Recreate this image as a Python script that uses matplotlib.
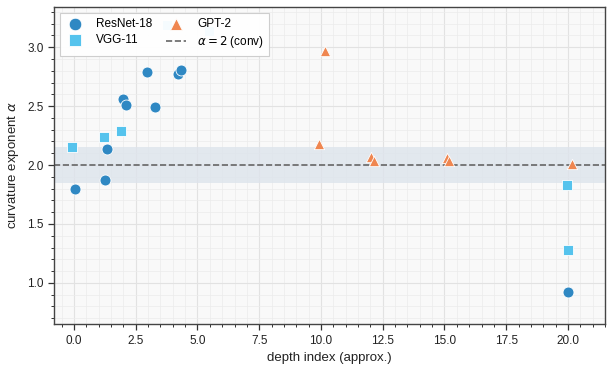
import matplotlib
matplotlib.use("Agg")
import matplotlib.pyplot as plt
from matplotlib.ticker import MultipleLocator

plt.rcParams['font.family'] = ['Liberation Sans', 'DejaVu Sans']
plt.rcParams['mathtext.fontset'] = 'dejavusans'

# data
resnet_x = [0.05, 1.27, 1.33, 1.97, 2.12, 2.97, 3.27, 4.22, 4.34, 20.0]
resnet_y = [1.80, 1.87, 2.14, 2.56, 2.51, 2.79, 2.49, 2.77, 2.81, 0.92]

vgg_x = [-0.08, 1.21, 1.92, 3.75, 5.45, 19.96, 20.0]
vgg_y = [2.15, 2.24, 2.29, 3.19, 3.14, 1.83, 1.28]

gpt_x = [9.92, 10.15, 12.01, 12.13, 15.09, 15.19, 20.18]
gpt_y = [2.18, 2.97, 2.07, 2.03, 2.06, 2.03, 2.01]

conv_alpha = 2.0
band = (1.85, 2.15)

fig, ax = plt.subplots(figsize=(6.13, 3.73), dpi=100)
fig.subplots_adjust(left=0.088, right=0.987, top=0.981, bottom=0.131)

ax.set_facecolor('#f9f9f9')
ax.grid(True, which='major', color='#e2e2e2', lw=0.8, zorder=0)
ax.grid(True, which='minor', color='#ececec', lw=0.5, zorder=0)
ax.set_axisbelow(True)

ax.axhspan(band[0], band[1], color='#dde4ec', alpha=0.8, lw=0, zorder=1)
ax.axhline(conv_alpha, color='#666666', ls='--', lw=1.2, zorder=2,
           label=r'$\alpha = 2$ (conv)')

ax.scatter(resnet_x, resnet_y, s=62, marker='o', color='#2f88c3',
           edgecolor='white', linewidth=0.6, zorder=3, label='ResNet-18')
ax.scatter(vgg_x, vgg_y, s=62, marker='s', color='#55c3ed',
           edgecolor='white', linewidth=0.6, zorder=3, label='VGG-11')
ax.scatter(gpt_x, gpt_y, s=55, marker='^', color='#ef8650',
           edgecolor='white', linewidth=0.6, zorder=3, label='GPT-2')

ax.set_xlim(-0.81, 21.5)
ax.set_ylim(0.65, 3.34)
ax.xaxis.set_major_locator(MultipleLocator(2.5))
ax.xaxis.set_minor_locator(MultipleLocator(0.5))
ax.yaxis.set_major_locator(MultipleLocator(0.5))
ax.yaxis.set_minor_locator(MultipleLocator(0.1))
ax.xaxis.set_major_formatter(plt.FormatStrFormatter('%.1f'))
ax.yaxis.set_major_formatter(plt.FormatStrFormatter('%.1f'))

ax.tick_params(which='major', length=4, width=0.9, color='#333333',
               labelsize=8.5, labelcolor='#222222')
ax.tick_params(which='minor', length=2.5, width=0.7, color='#333333')
for sp in ax.spines.values():
    sp.set_color('#444444')
    sp.set_linewidth(1.0)

ax.set_xlabel('depth index (approx.)', fontsize=9.5, color='#222222')
ax.set_ylabel(r'curvature exponent $\alpha$', fontsize=9.5, color='#222222')

handles, labels = ax.get_legend_handles_labels()
order = [1, 2, 3, 0]
leg = ax.legend([handles[i] for i in order], [labels[i] for i in order],
                loc='upper left', ncol=2, fontsize=8.5, frameon=True,
                framealpha=0.95, edgecolor='#cccccc', fancybox=False,
                borderpad=0.45, columnspacing=1.2, handletextpad=0.9,
                handlelength=1.7, labelspacing=0.35, markerscale=1.15,
                borderaxespad=0.5)
leg.get_frame().set_linewidth(0.8)

fig.savefig('out.png', dpi=100)
